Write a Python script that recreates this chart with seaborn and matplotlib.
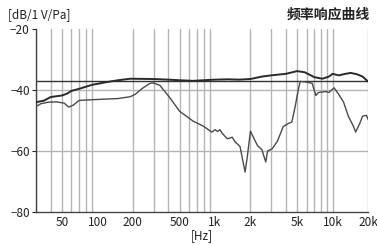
import numpy as np
import pandas as pd
import matplotlib
matplotlib.use("Agg")
import matplotlib.pyplot as plt
import matplotlib.ticker as mticker
import seaborn as sns

# Frequenzgang: obere Kurve
freq_upper = [30, 35, 40, 50, 55, 60, 70, 90, 120, 150, 190, 300, 400, 500, 650, 800,
              1000, 1300, 1600, 2000, 2500, 3000, 4000, 5000, 5800, 7000, 8200, 9300,
              10000, 11300, 12500, 14200, 16000, 18000, 20000]
db_upper = [-44.0, -43.5, -42.3, -41.8, -41.2, -40.3, -39.6, -38.3, -37.4, -36.8, -36.3,
            -36.4, -36.6, -36.8, -37.0, -36.8, -36.6, -36.5, -36.6, -36.4, -35.6, -35.2,
            -34.7, -33.8, -34.2, -35.8, -36.3, -35.6, -34.7, -35.2, -34.8, -34.4, -34.8,
            -35.6, -37.2]

# untere Kurve
freq_lower = [30, 33, 38, 45, 52, 57, 62, 70, 100, 150, 190, 210, 240, 280, 300, 340, 410,
              500, 610, 650, 790, 940, 1000, 1050, 1100, 1150, 1270, 1400, 1480, 1630, 1730,
              1800, 1880, 2000, 2150, 2300, 2500, 2700, 2800, 3060, 3400, 3800, 4200, 4500,
              4800, 5100, 5300, 6000, 6700, 7200, 7600, 8800, 9300, 10300, 11300, 12400,
              13600, 15000, 15700, 17000, 18000, 19400, 20000]
db_lower = [-45.4, -44.5, -44.0, -43.9, -44.3, -45.6, -45.0, -43.4, -43.1, -42.8, -42.2,
            -41.4, -39.5, -37.8, -37.7, -38.5, -42.4, -47.0, -49.4, -50.2, -51.8, -53.8,
            -53.0, -53.6, -53.0, -54.2, -56.0, -55.5, -57.0, -58.5, -63.5, -66.9, -62.0,
            -53.5, -56.0, -58.3, -59.5, -63.6, -60.0, -59.3, -56.7, -52.0, -51.0, -50.5,
            -45.5, -40.0, -37.2, -37.4, -37.8, -41.8, -40.8, -40.5, -40.8, -39.3, -41.5,
            -44.0, -48.6, -51.8, -53.8, -51.0, -48.6, -48.3, -49.6]

sensitivity = -37
x_ticks = [50, 100, 200, 500, 1000, 2000, 5000, 10000, 20000]
x_tick_labels = ["50", "100", "200", "500", "1k", "2k", "5k", "10k", "20k"]
y_ticks = [-80, -60, -40, -20]

sns.set_style("white")
plt.rcParams["font.family"] = ["Noto Sans CJK SC", "DejaVu Sans"]

fig = plt.figure(figsize=(3.77, 2.45), dpi=100)
ax = fig.add_axes([36 / 377, 1 - 212 / 245, 332 / 377, 183 / 245])

# Gitterlinien
grid_freqs = [f * d for d in (10, 100, 1000) for f in range(2, 10)] + [10000, 20000]
for f in grid_freqs:
    if f < 30:
        continue
    ax.axvline(f, color="#222222" if f == 1000 else "#b4b4b4", lw=1.0, zorder=1)
for y in (-40, -60):
    ax.axhline(y, color="#b4b4b4", lw=1.0, zorder=1)
ax.axhline(sensitivity, color="#333333", lw=1.0, zorder=2)

df_up = pd.DataFrame({"f": freq_upper, "db": db_upper})
df_lo = pd.DataFrame({"f": freq_lower, "db": db_lower})
sns.lineplot(data=df_up, x="f", y="db", ax=ax, color="#2a2a2a", lw=1.4, zorder=3)
sns.lineplot(data=df_lo, x="f", y="db", ax=ax, color="#4a4a4a", lw=1.0, zorder=3)

ax.set_xscale("log")
ax.set_xlim(30, 20000)
ax.set_ylim(-80, -20)
ax.xaxis.set_major_locator(mticker.FixedLocator(x_ticks))
ax.xaxis.set_minor_locator(mticker.NullLocator())
ax.set_xticklabels(x_tick_labels)
ax.set_yticks(y_ticks)
ax.set_yticklabels(["\u221280", "\u221260", "\u221240", "\u221220"])
ax.tick_params(axis="both", labelsize=8.5, colors="#222222", length=3, width=0.8, pad=1.5)
ax.tick_params(axis="x", length=0, pad=3)
ax.tick_params(axis="y", left=True)

for s in ("top", "right"):
    ax.spines[s].set_visible(False)
for s in ("left", "bottom"):
    ax.spines[s].set_color("#444444")
    ax.spines[s].set_linewidth(1.0)

ax.set_xlabel("[Hz]", fontsize=8.5, color="#222222", labelpad=0)
ax.set_ylabel("")
fig.text(8 / 377, 1 - 15 / 245, "[dB/1 V/Pa]", fontsize=8.5, color="#222222", va="center", ha="left")
fig.text(370 / 377, 1 - 15 / 245, "频率响应曲线", fontsize=10, fontweight="bold",
         color="#222222", va="center", ha="right")

fig.savefig("out.png", dpi=100)
